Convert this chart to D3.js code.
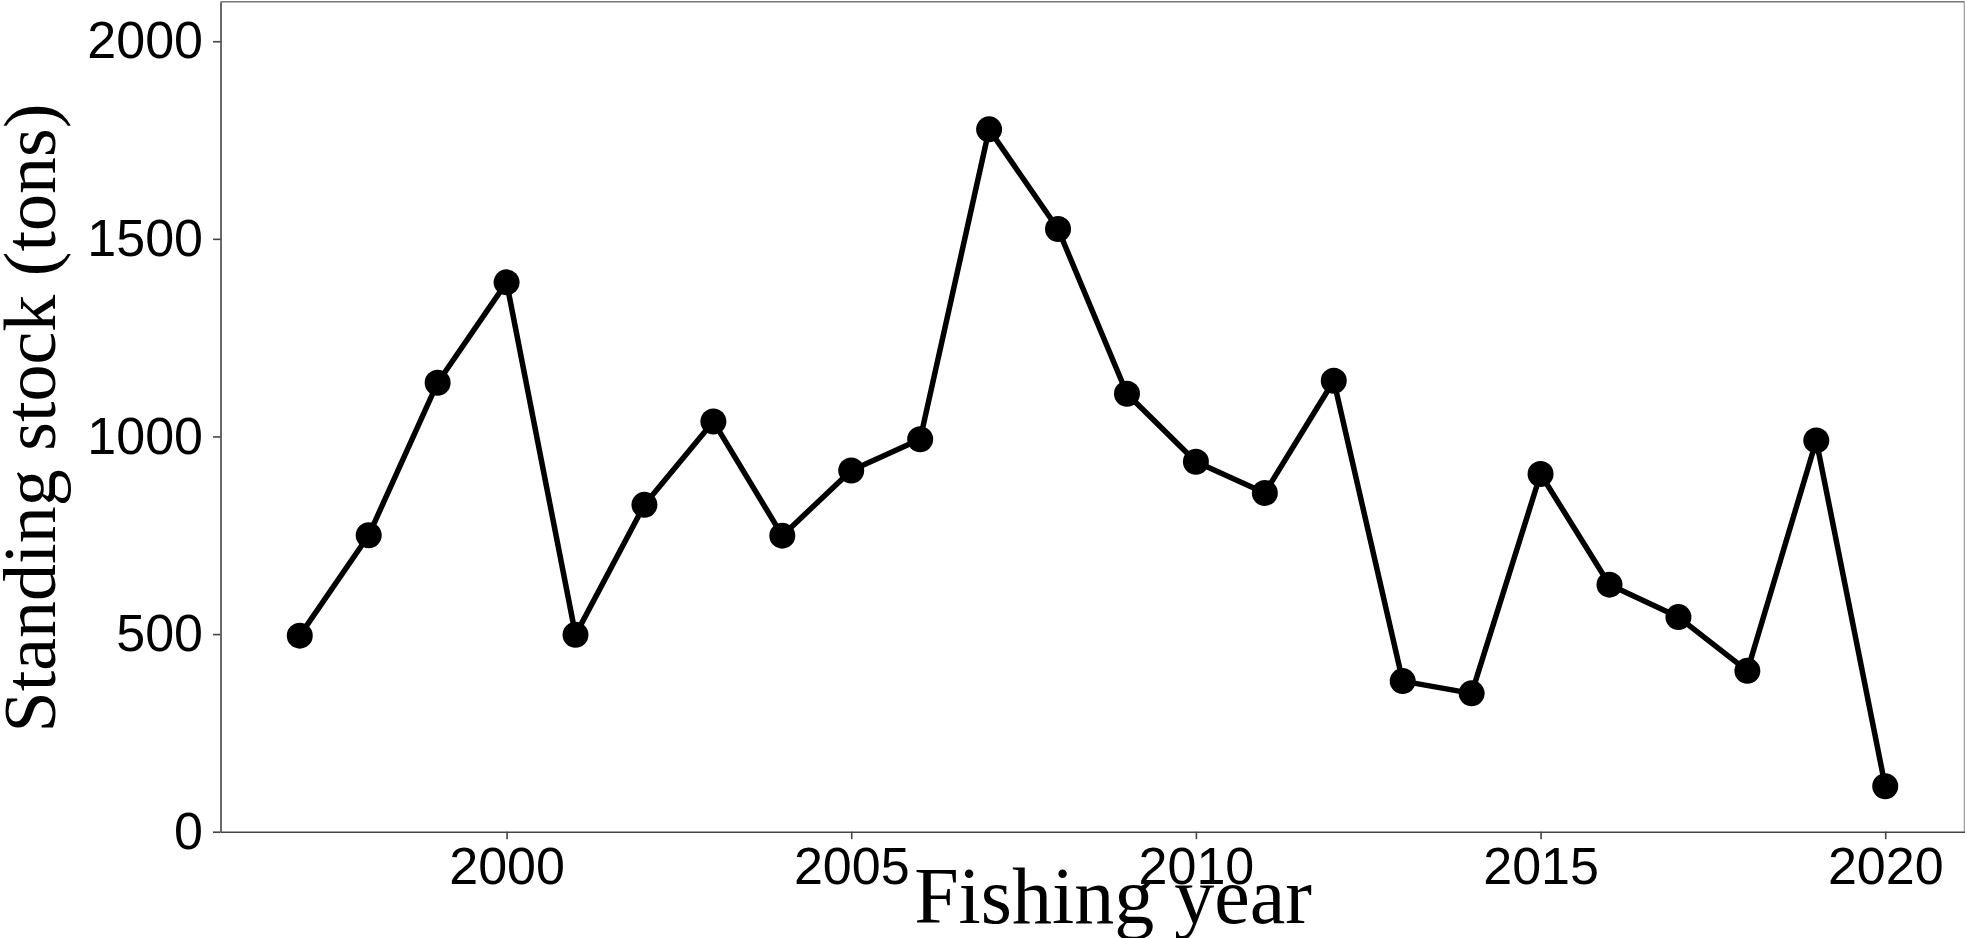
<!DOCTYPE html>
<html>
<head>
<meta charset="utf-8">
<script src="https://cdn.jsdelivr.net/npm/d3@7"></script>
<style>
  html, body { margin: 0; padding: 0; background: #fff; }
  svg { display: block; }
</style>
</head>
<body>
<div id="chart"></div>
<script>
// data
const years = [1997, 1998, 1999, 2000, 2001, 2002, 2003, 2004, 2005, 2006, 2007, 2008,
               2009, 2010, 2011, 2012, 2013, 2014, 2015, 2016, 2017, 2018, 2019, 2020];
const stock = [496, 750, 1136, 1390, 498, 827, 1038, 749, 914, 993, 1777, 1525,
               1108, 936, 857, 1141, 381, 350, 905, 625, 543, 407, 990, 115];
const yTicks = [0, 500, 1000, 1500, 2000];
const xTicks = [2000, 2005, 2010, 2015, 2020];

const W = 1965, H = 938;
const pLeft = 220.5, pRight = 1964.5, pTop = 1.7, pBottom = 831.7;

const svg = d3.select('#chart')
    .append('svg')
    .attr('width', W)
    .attr('height', H);

// scales, with ggplot-like 5% padding on x
const x = d3.scaleLinear()
    .domain([1997 - 1.15, 2020 + 1.15])
    .range([pLeft, pRight]);
const y = d3.scaleLinear()
    .domain([0, 2100])
    .range([pBottom, pTop]);

// panel border (top / right lighter)
svg.append('line')
    .attr('x1', pLeft).attr('x2', pRight)
    .attr('y1', pTop).attr('y2', pTop)
    .attr('stroke', '#777').attr('stroke-width', 1.6);
svg.append('line')
    .attr('x1', pRight).attr('x2', pRight)
    .attr('y1', pTop).attr('y2', pBottom)
    .attr('stroke', '#a0a0a0').attr('stroke-width', 1.6);

// axes
const yAxis = svg.append('g')
    .attr('transform', `translate(${pLeft},0)`)
    .call(d3.axisLeft(y).tickValues(yTicks).tickFormat(d3.format('d'))
        .tickSize(7.5).tickSizeOuter(0).tickPadding(10));
const xAxis = svg.append('g')
    .attr('transform', `translate(0,${pBottom})`)
    .call(d3.axisBottom(x).tickValues(xTicks).tickFormat(d3.format('d'))
        .tickSize(7.5).tickSizeOuter(0).tickPadding(7.5));

[yAxis, xAxis].forEach(g => {
    g.select('.domain').attr('stroke', '#444').attr('stroke-width', 1.6);
    g.selectAll('.tick line').attr('stroke', '#444').attr('stroke-width', 1.6);
    g.selectAll('.tick text')
        .attr('fill', '#000')
        .style('font-family', '"Liberation Sans", Arial, sans-serif')
        .style('font-size', '52px');
});

// line + points
const line = d3.line()
    .x((d, i) => x(years[i]))
    .y(d => y(d));

svg.append('path')
    .datum(stock)
    .attr('d', line)
    .attr('fill', 'none')
    .attr('stroke', '#000')
    .attr('stroke-width', 5.5)
    .attr('stroke-linejoin', 'round');

svg.append('g')
    .selectAll('circle')
    .data(stock)
    .enter()
    .append('circle')
    .attr('cx', (d, i) => x(years[i]))
    .attr('cy', d => y(d))
    .attr('r', 13)
    .attr('fill', '#000');

// axis titles
svg.append('text')
    .attr('x', 1113)
    .attr('y', 923)
    .attr('text-anchor', 'middle')
    .style('font-family', '"Liberation Serif", "Times New Roman", serif')
    .style('font-size', '80px')
    .text('Fishing year');

svg.append('text')
    .attr('transform', 'translate(55,418) rotate(-90)')
    .attr('text-anchor', 'middle')
    .style('font-family', '"Liberation Serif", "Times New Roman", serif')
    .style('font-size', '74px')
    .text('Standing stock (tons)');
</script>
</body>
</html>
